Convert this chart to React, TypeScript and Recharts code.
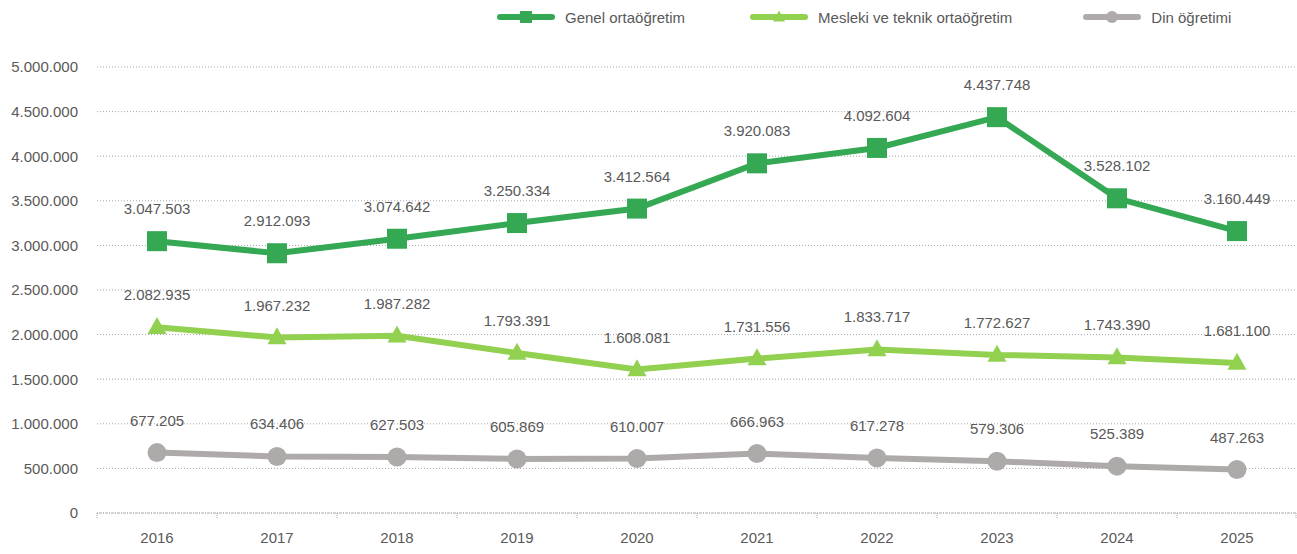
import React from "react";
import { LineChart, Line, XAxis, YAxis, CartesianGrid, LabelList, Legend } from "recharts";

const years = ["2016", "2017", "2018", "2019", "2020", "2021", "2022", "2023", "2024", "2025"];
const genel = [3047503, 2912093, 3074642, 3250334, 3412564, 3920083, 4092604, 4437748, 3528102, 3160449];
const mesleki = [2082935, 1967232, 1987282, 1793391, 1608081, 1731556, 1833717, 1772627, 1743390, 1681100];
const din = [677205, 634406, 627503, 605869, 610007, 666963, 617278, 579306, 525389, 487263];
const yTicks = [0, 500000, 1000000, 1500000, 2000000, 2500000, 3000000, 3500000, 4000000, 4500000, 5000000];

const seriesNames = ["Genel ortaöğretim", "Mesleki ve teknik ortaöğretim", "Din öğretimi"];
const seriesKeys = ["genel", "mesleki", "din"];
const seriesColors = ["#34A853", "#92D050", "#AEAAAA"];
const seriesShapes = ["square", "triangle", "circle"];

const data = years.map((y, i) => ({ year: y, genel: genel[i], mesleki: mesleki[i], din: din[i] }));

const W = 1297;
const H = 554;
const YW = 97;
const TEXT = "#595959";
const FONT = "'Liberation Sans', Arial, sans-serif";

const fmt = (v: number) => String(Math.round(v)).replace(/\B(?=(\d{3})+(?!\d))/g, ".");

const Marker = (shape: string, color: string, big: boolean) => (props: any) => {
  const { cx, cy } = props;
  if (cx == null || cy == null) return null;
  if (shape === "square") {
    const s = big ? 20 : 12;
    return <rect key={`s${cx}`} x={cx - s / 2} y={cy - s / 2} width={s} height={s} fill={color} />;
  }
  if (shape === "triangle") {
    const w = big ? 19 : 12;
    const h = big ? 17 : 11;
    return (
      <polygon
        key={`t${cx}`}
        points={`${cx},${cy - h * 0.6} ${cx + w / 2},${cy + h * 0.4} ${cx - w / 2},${cy + h * 0.4}`}
        fill={color}
      />
    );
  }
  return <circle key={`c${cx}`} cx={cx} cy={cy} r={big ? 9.5 : 6} fill={color} />;
};

const LegendIcon = ({ shape, color }: { shape: string; color: string }) => (
  <svg width={58} height={14} style={{ display: "block" }}>
    <line x1={3} y1={7} x2={55} y2={7} stroke={color} strokeWidth={6} strokeLinecap="round" />
    {Marker(shape, color, false)({ cx: 29, cy: 7 })}
  </svg>
);

const legendGaps = [65, 71, 0];

const renderLegend = () => (
  <div style={{ height: 34, display: "flex", alignItems: "center", paddingLeft: 497, fontFamily: FONT, fontSize: 15, color: TEXT }}>
    {seriesNames.map((n, i) => (
      <div key={n} style={{ display: "flex", alignItems: "center", marginRight: legendGaps[i] }}>
        <LegendIcon shape={seriesShapes[i]} color={seriesColors[i]} />
        <span style={{ marginLeft: 10 }}>{n}</span>
      </div>
    ))}
  </div>
);

const plotW = W - YW;
const halfBand = plotW / years.length / 2;

const XTick = (props: any) => {
  const { x, y, payload, index } = props;
  const axisY = y - 14 - 5;
  return (
    <g>
      <line x1={x - halfBand} y1={axisY} x2={x - halfBand} y2={axisY + 6} stroke="#A6A6A6" strokeDasharray="1 1" />
      {index === years.length - 1 && (
        <line x1={x + halfBand - 1} y1={axisY} x2={x + halfBand - 1} y2={axisY + 6} stroke="#A6A6A6" strokeDasharray="1 1" />
      )}
      <text x={x} y={y} dy={10.7} textAnchor="middle" fill={TEXT} fontSize={15} fontFamily={FONT}>
        {payload.value}
      </text>
    </g>
  );
};

export default function App() {
  return (
    <div style={{ position: "absolute", left: 0, top: 0, width: W, height: H, background: "#fff" }}>
      <LineChart width={W} height={H} data={data} margin={{ top: 33, right: 0, bottom: 0, left: 0 }}>
        <Legend verticalAlign="top" align="left" content={renderLegend} wrapperStyle={{ top: 0, left: 0, width: W }} />
        <CartesianGrid vertical={false} stroke="#A6A6A6" strokeDasharray="1 2" />
        <XAxis
          dataKey="year"
          height={41}
          padding={{ left: halfBand, right: halfBand }}
          axisLine={{ stroke: "#A6A6A6", strokeDasharray: "1 1" }}
          tickLine={false}
          tickSize={5}
          tickMargin={14}
          tick={<XTick />}
          interval={0}
        />
        <YAxis
          width={YW}
          domain={[0, 5000000]}
          ticks={yTicks}
          axisLine={false}
          tickLine={false}
          tickSize={6}
          tickMargin={13}
          tickFormatter={fmt}
          tick={{ fill: TEXT, fontSize: 15, fontFamily: FONT }}
        />
        {seriesKeys.map((k, i) => (
          <Line
            key={k}
            dataKey={k}
            name={seriesNames[i]}
            stroke={seriesColors[i]}
            strokeWidth={6}
            dot={Marker(seriesShapes[i], seriesColors[i], true)}
            activeDot={false}
            isAnimationActive={false}
          >
            <LabelList
              dataKey={k}
              position="top"
              offset={27}
              formatter={(v: any) => fmt(Number(v))}
              style={{ fill: TEXT, fontSize: 15, fontFamily: FONT }}
            />
          </Line>
        ))}
      </LineChart>
    </div>
  );
}
